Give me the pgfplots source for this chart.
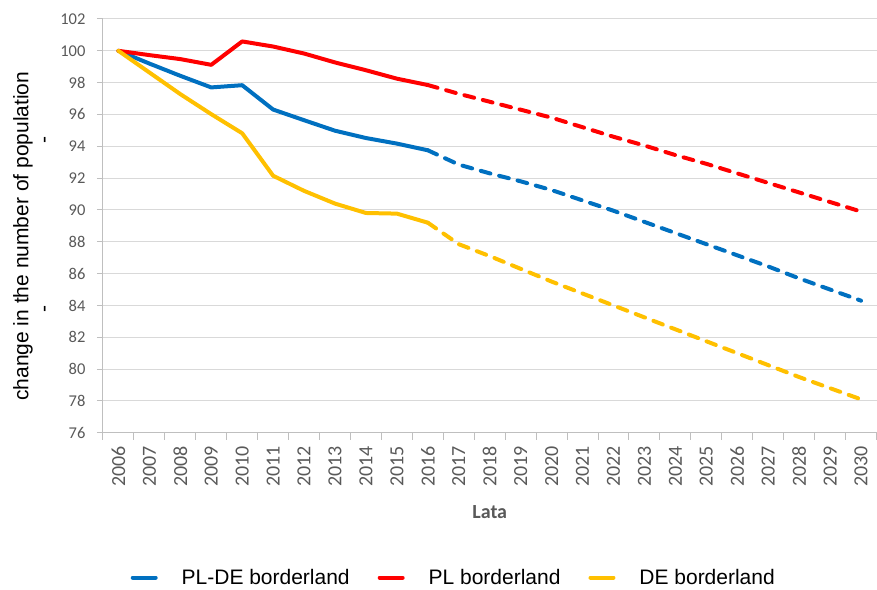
\documentclass[border=0pt]{standalone}
\usepackage{fontspec}
\setmainfont{Carlito}
\newfontfamily\arial{Liberation Sans}
\usepackage{pgfplots}
\pgfplotsset{compat=1.18}
\definecolor{plde}{HTML}{0070C0}
\definecolor{plred}{HTML}{FF0000}
\definecolor{deyel}{HTML}{FFC000}
\definecolor{gridgray}{HTML}{D9D9D9}
\definecolor{axisgray}{HTML}{BFBFBF}
\definecolor{ticktext}{HTML}{595959}

\begin{document}
\begin{tikzpicture}
\begin{axis}[
    name=ax,
    width=774pt, height=414pt, scale only axis,
    xmin=-0.5, xmax=24.5, ymin=76, ymax=102,
    axis x line*=bottom, axis y line*=left,
    axis line style={axisgray, line width=1pt},
    xtick={0,...,24},
    xticklabels={2006,2007,2008,2009,2010,2011,2012,2013,2014,2015,2016,2017,2018,2019,2020,2021,2022,2023,2024,2025,2026,2027,2028,2029,2030},
    minor xtick={-0.5,0.5,...,24.5},
    major x tick style={draw=none},
    minor x tick style={axisgray, line width=1pt},
    minor tick length=7pt,
    ytick={76,78,...,102},
    y tick style={axisgray, line width=1pt},
    major tick length=6pt,
    tick align=outside,
    ymajorgrids, major grid style={gridgray, line width=1pt},
    /pgf/number format/assume math mode=true,
    x tick label style={rotate=90, anchor=east, font=\fontsize{20}{24}\selectfont, text=ticktext, xshift=-4pt},
    y tick label style={font=\fontsize{16.5}{20}\selectfont, text=ticktext, xshift=-8pt},
    xlabel={\textbf{Lata}},
    xlabel style={font=\fontsize{20}{24}\selectfont, text=ticktext, yshift=-12pt},
    ylabel={change in the number of population\\[-2pt]\hspace*{24pt}-\hspace{162pt}-},
    ylabel style={at={(axis description cs:-0.092,0.475)}, anchor=center, align=center,
      font=\arial\fontsize{21}{24}\selectfont},
    legend columns=3,
    legend style={at={(0.4535,-0.35)}, anchor=center, draw=none, fill=none,
      font=\arial\fontsize{21}{24}\selectfont,
      /tikz/every odd column/.append style={column sep=22pt},
      /tikz/every even column/.append style={column sep=26pt}},
    legend cell align=left,
    legend image code/.code={\draw[#1] (0pt,0pt) -- (23pt,0pt);},
    every axis plot/.append style={line width=4pt, line join=round, line cap=round},
]
\addplot[plde] coordinates {(0,100) (1,99.2) (2,98.43) (3,97.7) (4,97.84) (5,96.31) (6,95.64) (7,94.98) (8,94.52) (9,94.17) (10,93.75)};
\addlegendentry{PL-DE borderland}
\addplot[plred] coordinates {(0,100) (1,99.73) (2,99.48) (3,99.12) (4,100.59) (5,100.27) (6,99.83) (7,99.27) (8,98.78) (9,98.25) (10,97.85)};
\addlegendentry{PL borderland}
\addplot[deyel] coordinates {(0,100) (1,98.64) (2,97.28) (3,96.02) (4,94.82) (5,92.15) (6,91.2) (7,90.4) (8,89.81) (9,89.77) (10,89.2)};
\addlegendentry{DE borderland}
\addplot[plde, dash pattern=on 10pt off 9pt, forget plot] coordinates {(10,93.75) (11,92.85) (12,92.3) (13,91.8) (14,91.25) (15,90.6) (16,89.95) (17,89.25) (18,88.55) (19,87.85) (20,87.15) (21,86.45) (22,85.7) (23,85.0) (24,84.3)};
\addplot[plred, dash pattern=on 10pt off 9pt, forget plot] coordinates {(10,97.85) (11,97.3) (12,96.8) (13,96.3) (14,95.8) (15,95.2) (16,94.6) (17,94.05) (18,93.45) (19,92.9) (20,92.3) (21,91.7) (22,91.1) (23,90.5) (24,89.9)};
\addplot[deyel, dash pattern=on 10pt off 9pt, forget plot] coordinates {(10,89.2) (11,87.85) (12,87.1) (13,86.3) (14,85.5) (15,84.75) (16,84.0) (17,83.25) (18,82.5) (19,81.75) (20,81.0) (21,80.25) (22,79.5) (23,78.8) (24,78.1)};
\end{axis}
\path (ax.south west) ++(-103pt,-156pt) rectangle ++(877pt,589pt);
\end{tikzpicture}
\end{document}
